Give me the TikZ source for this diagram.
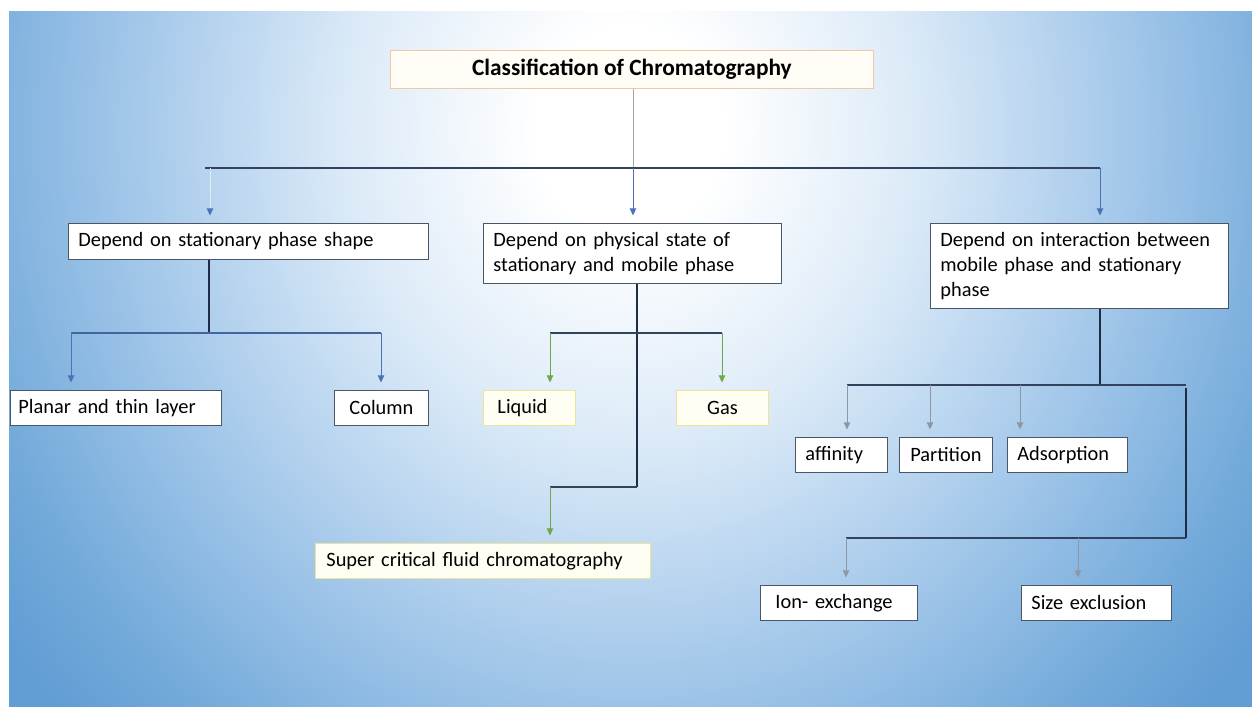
\documentclass[tikz,border=0pt]{standalone}
\usepackage{fontspec}
\setmainfont{Carlito}
\usepackage{tikz}
\usetikzlibrary{arrows.meta}
\definecolor{bgblue}{HTML}{629DD4}
\definecolor{bglow}{HTML}{73AADA}
\definecolor{bgmid}{HTML}{A4C8EA}
\definecolor{bglite}{HTML}{DDEBF8}
\definecolor{navy}{HTML}{1E2C45}
\definecolor{barline}{HTML}{33435F}
\definecolor{boxline}{HTML}{4A5568}
\definecolor{ttlline}{HTML}{F2C8A2}
\definecolor{ttlfill}{HTML}{FFFDF6}
\definecolor{ylwline}{HTML}{EEE39A}
\definecolor{ylwfill}{HTML}{FFFEF3}
\definecolor{arrblue}{HTML}{4A72B8}
\definecolor{arrgreen}{HTML}{6FA84A}
\definecolor{arrgray}{HTML}{8C98A4}
\pgfdeclareradialshading{bgglow}{\pgfpoint{0bp}{0bp}}{color(0bp)=(white); color(3bp)=(white); color(9bp)=(bglite); color(16bp)=(bgmid); color(22bp)=(bglow); color(25bp)=(bgblue); color(50bp)=(bgblue)}

\begin{document}
\begin{tikzpicture}[x=0.02cm, y=-0.02cm,
    box/.style={draw=boxline, line width=0.5pt, fill=white, anchor=north west, align=left,
      inner xsep=0.2cm, inner ysep=0pt, minimum height=0.7cm, font=\fontsize{11.6}{14.2}\selectfont},
    cbox/.style={box, align=center},
    ybox/.style={box, draw=ylwline, fill=ylwfill},
    trunk/.style={draw=navy, line width=1.5pt},
    bar/.style={draw=barline, line width=0.6pt},
    barrow/.style={draw=arrblue, line width=0.5pt, -{Triangle[length=4pt,width=3.6pt]}, shorten >=0.15cm},
    garrow/.style={barrow, draw=arrgreen},
    karrow/.style={barrow, draw=arrgray}]
  \useasboundingbox (0,0) rectangle (1252,707);
  \fill[bgblue] (9,11) rectangle (1252,707);
  \begin{scope}
    \clip (9,11) rectangle (1252,707);
    \shade[shading=bgglow] (630,130) ellipse [x radius=15.5cm, y radius=17cm];
  \end{scope}

  \node[cbox, draw=ttlline, fill=ttlfill, minimum width=9.66cm, minimum height=0.76cm,
    font=\bfseries\fontsize{13.3}{15}\selectfont] (title) at (390,50) {Classification of Chromatography};

  \node[box, text width=6.8cm, minimum height=0.72cm] (stshape) at (68,223) {Depend on stationary phase shape};
  \node[box, text width=5.56cm, minimum height=1.2cm] (phstate) at (483,223) {Depend on physical state of\\stationary and mobile phase};
  \node[box, text width=5.56cm, minimum height=1.7cm] (interact) at (930,223) {Depend on interaction between\\mobile phase and stationary\\phase};

  \node[box, inner xsep=0.16cm, text width=3.9cm] (planar) at (10,390) {Planar and thin layer};
  \node[cbox, minimum width=1.88cm] (column) at (334,390) {Column};
  \node[ybox, inner xsep=0.28cm, text width=1.28cm] (liquid) at (483,390) {Liquid};
  \node[ybox, align=center, minimum width=1.84cm] (gas) at (676,390) {Gas};
  \node[ybox, inner xsep=0.22cm, text width=6.26cm] (scf) at (315,543) {Super critical fluid chromatography};

  \node[box, text width=1.44cm] (affinity) at (795,437) {affinity};
  \node[cbox, minimum width=1.86cm] (partition) at (899,437) {Partition};
  \node[box, text width=2.0cm] (adsorption) at (1007,437) {Adsorption};
  \node[box, inner xsep=0.3cm, text width=2.54cm] (ionex) at (760,585) {Ion- exchange};
  \node[box, text width=2.6cm] (sizeex) at (1021,585) {Size exclusion};

  \coordinate (top) at (633,168);
  \coordinate (barL) at (205,168);
  \coordinate (barR) at (1100,168);
  \draw[draw=gray!70, line width=0.5pt] (title.south -| top) -- (top);
  \draw[bar] (barL) -- (barR);
  \draw[barrow, draw=arrblue!15, -{Triangle[length=4pt,width=3.6pt,color=arrblue]}] (210,168) coordinate (barL1) -- (barL1 |- stshape.north);
  \draw[barrow] (top) -- (top |- phstate.north);
  \draw[barrow] (barR) -- (barR |- interact.north);

  \coordinate (j1) at (209,333);
  \coordinate (j1a) at (71,333);
  \coordinate (j1b) at (381,333);
  \draw[trunk] (stshape.south -| j1) -- (j1);
  \draw[bar, draw=arrblue!70!barline] (j1a) -- (j1b);
  \draw[barrow] (j1a) -- (j1a |- planar.north);
  \draw[barrow] (j1b) -- (j1b |- column.north);

  \coordinate (j2) at (637,333);
  \coordinate (j2a) at (550,333);
  \coordinate (j2b) at (722,333);
  \coordinate (j2end) at (637,487);
  \coordinate (j2c) at (550,487);
  \draw[trunk] (phstate.south -| j2) -- (j2end);
  \draw[bar] (j2a) -- (j2b);
  \draw[garrow] (j2a) -- (j2a |- liquid.north);
  \draw[garrow] (j2b) -- (j2b |- gas.north);
  \draw[bar] (j2end) -- (j2c);
  \draw[garrow] (j2c) -- (j2c |- scf.north);

  \coordinate (j3) at (1100,385);
  \coordinate (j3a) at (847,385);
  \coordinate (j3b) at (930,385);
  \coordinate (j3c) at (1020,385);
  \coordinate (j3r) at (1186,385);
  \coordinate (j4r) at (1186,538);
  \coordinate (j4a) at (846,538);
  \coordinate (j4b) at (1078,538);
  \draw[trunk] (interact.south -| j3) -- (j3);
  \draw[bar] (j3a) -- (j3r);
  \draw[karrow] (j3a) -- (j3a |- affinity.north);
  \draw[karrow] (j3b) -- (j3b |- partition.north);
  \draw[karrow] (j3c) -- (j3c |- adsorption.north);
  \draw[trunk] (1186,388) -- (j4r);
  \draw[bar] (j4r) -- (j4a);
  \draw[karrow] (j4a) -- (j4a |- ionex.north);
  \draw[karrow] (j4b) -- (j4b |- sizeex.north);
\end{tikzpicture}
\end{document}
